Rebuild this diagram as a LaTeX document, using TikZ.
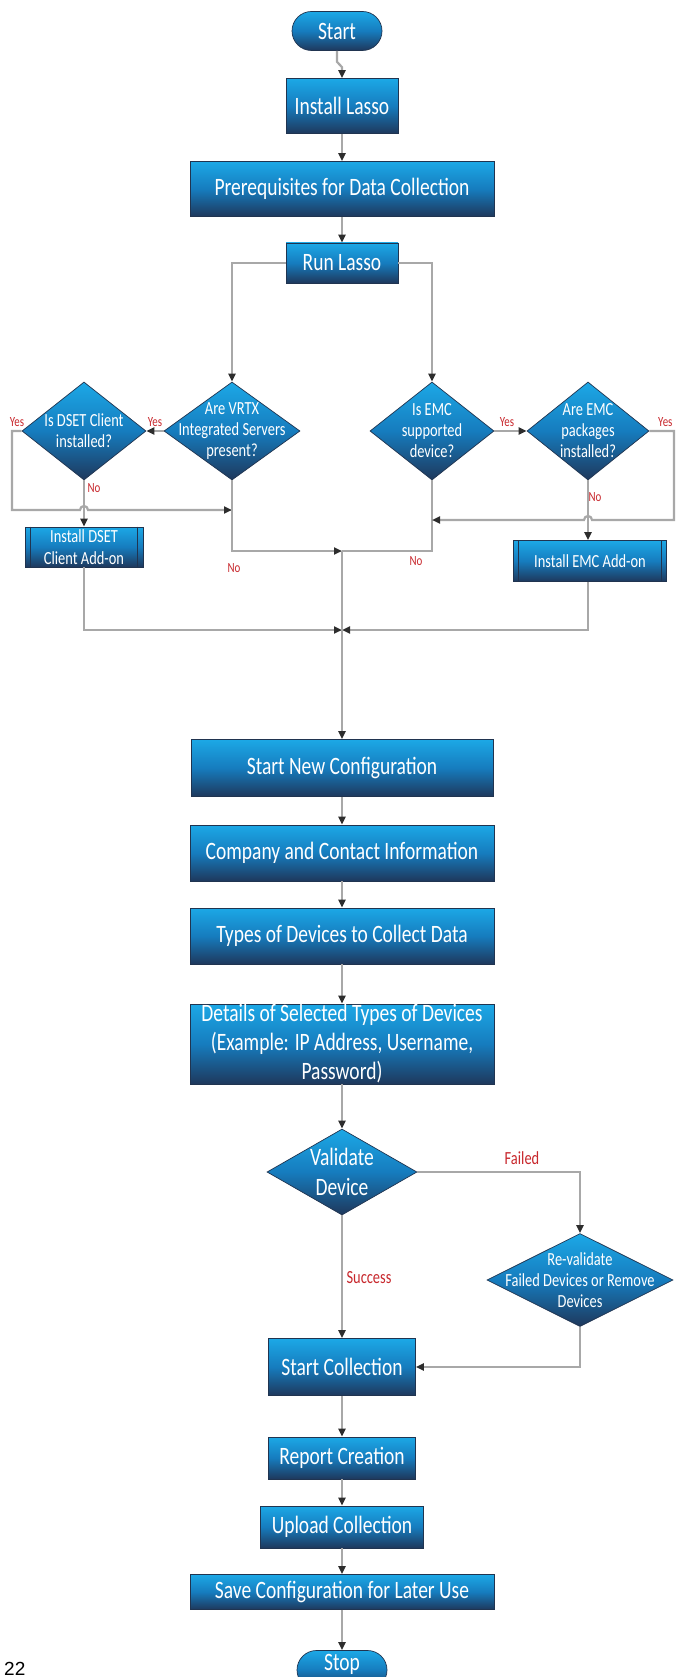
\documentclass[tikz,border=0pt]{standalone}
\usepackage{fontspec}
\usetikzlibrary{shapes.geometric,shapes.misc,arrows.meta,calc}
\newfontfamily\cfont{Carlito}[FakeStretch=0.78]
\newfontfamily\pgfont{Liberation Sans}
\definecolor{btop}{RGB}{28,168,230}
\definecolor{bmid}{RGB}{22,124,190}
\definecolor{bbot}{RGB}{30,56,92}
\definecolor{bline}{RGB}{32,52,80}
\definecolor{lgray}{RGB}{168,168,168}
\definecolor{ared}{RGB}{200,40,45}
\definecolor{tipc}{RGB}{45,45,45}
\tikzset{
  shadeit/.style={top color=btop, bottom color=bbot, middle color=bmid, draw=bline, line width=0.7pt},
  box/.style={shadeit, rectangle, inner sep=0pt, text=white, font=\cfont\fontsize{25}{29}\selectfont, align=center},
  pill/.style={shadeit, rounded rectangle, inner sep=0pt},
  sbox/.style={box, font=\cfont\fontsize{18.5}{21.5}\selectfont},
  dia/.style={shadeit, diamond, inner sep=0pt},
  dtext/.style={text=white, font=\cfont\fontsize{18.5}{21}\selectfont, align=center, inner sep=0pt},
  btext/.style={text=white, font=\cfont\fontsize{25}{30}\selectfont, align=center, inner sep=0pt},
  conn/.style={draw=lgray, line width=2.2pt},
  arr/.style={conn, -{Triangle[length=8pt,width=7pt,color=tipc]}},
  lab/.style={text=ared, font=\cfont\fontsize{18.5}{20}\selectfont, inner sep=0pt},
  slab/.style={text=ared, font=\cfont\fontsize{14}{15}\selectfont, inner sep=0pt},
  inline/.style={draw=bline, line width=0.8pt},
}
\begin{document}
\begin{tikzpicture}[x=1pt,y=-1pt]
\useasboundingbox (0,0) rectangle (676,1677);
\clip (0,0) rectangle (676,1677);
\fill[white] (0,0) rectangle (676,1677);

% main column
\node[pill, minimum width=90, minimum height=39,
  label={[btext]center:Start}] (start) at (337,31) {};
\node[box, minimum width=112, minimum height=55] (install) at (342,106) {Install Lasso};
\node[box, minimum width=304, minimum height=55] (prereq) at (342,189) {Prerequisites for Data Collection};
\node[box, minimum width=112, minimum height=40] (run) at (342,263) {Run Lasso};

% decision row
\node[dia, minimum width=136, minimum height=98,
  label={[dtext]center:{Are VRTX\\Integrated Servers\\present?}}] (vrtx) at (232,431) {};
\node[dia, minimum width=124, minimum height=98,
  label={[dtext]center:{Is DSET Client\\installed?}}] (dset) at (84,431) {};
\node[dia, minimum width=124, minimum height=98,
  label={[dtext]center:{Is EMC\\supported\\device?}}] (emcs) at (432,431) {};
\node[dia, minimum width=122, minimum height=98,
  label={[dtext]center:{Are EMC\\packages\\installed?}}] (emcp) at (588,431) {};

\node[sbox, minimum width=118, minimum height=40] (idset) at (84,547) {Install DSET\\Client Add-on};
\node[sbox, minimum width=153, minimum height=41] (iemc) at (590,561) {Install EMC Add-on};
\draw[inline] ([xshift=6pt]idset.north west) -- ([xshift=6pt]idset.south west);
\draw[inline] ([xshift=-6pt]idset.north east) -- ([xshift=-6pt]idset.south east);
\draw[inline] ([xshift=5pt]iemc.north west) -- ([xshift=5pt]iemc.south west);
\draw[inline] ([xshift=-5pt]iemc.north east) -- ([xshift=-5pt]iemc.south east);

\coordinate (j1) at (342,551);
\coordinate (j2) at (342,630);

\node[box, minimum width=302, minimum height=57] (snc) at (342,768) {Start New Configuration};
\node[box, minimum width=304, minimum height=56] (cci) at (342,853) {Company and Contact Information};
\node[box, minimum width=304, minimum height=56] (types) at (342,936) {Types of Devices to Collect Data};
\node[box, minimum width=304, minimum height=80] (details) at (342,1044)
  {Details of Selected Types of Devices\\(Example: IP Address, Username,\\Password)};
\node[dia, minimum width=150, minimum height=86,
  label={[btext]center:{Validate\\Device}}] (validate) at (342,1172) {};
\node[dia, minimum width=186, minimum height=93,
  label={[dtext]center:{Re-validate\\Failed Devices or Remove\\Devices}}] (reval) at (580,1280) {};
\node[box, minimum width=147, minimum height=57] (scoll) at (342,1367) {Start Collection};
\node[box, minimum width=147, minimum height=42] (report) at (342,1458) {Report Creation};
\node[box, minimum width=163, minimum height=42] (upload) at (342,1527) {Upload Collection};
\node[box, minimum width=304, minimum height=35] (save) at (342,1592) {Save Configuration for Later Use};
\node[pill, minimum width=90, minimum height=39,
  label={[btext,yshift=6pt]center:Stop}] (stop) at (342,1670) {};

\node[font=\pgfont\fontsize{19}{20}\selectfont, anchor=base west, inner sep=0pt] (pgnum) at (4,1675) {22};

% connectors
\draw[arr] (start.south) -- ++(0,11) -- ($(install.north)+(0,-11)$) -- (install.north);
\draw[arr] (install) -- (prereq);
\draw[arr] (prereq) -- (run);
\draw[arr] (run.west) -| (vrtx.north);
\draw[arr] (run.east) -| (emcs.north);

\draw[arr] (vrtx.west) -- (dset.east);
\draw[arr] (dset.west) -- (12,431) -- (12,510) -- (80,510)
   arc[start angle=180,end angle=0,radius=4pt] -- (vrtx.south |- 0,510);
\draw[arr] (dset.south) -- (idset.north);
\draw[arr] (vrtx.south) |- (j1);
\draw[conn] (emcs.south) |- (j1);

\draw[arr] (emcs.east) -- (emcp.west);
\draw[arr] (emcp.east) -- (674,431) -- (674,520) -- (592,520)
   arc[start angle=0,end angle=180,radius=4pt] -- (emcs.south |- 0,520);
\draw[arr] (emcp.south) -- (emcp.south |- iemc.north);

\draw[arr] (idset.south) |- (j2);
\draw[arr] (iemc.south -| emcp.south) |- (j2);
\draw[arr] (j1) -- (snc.north);

\draw[arr] (snc) -- (cci);
\draw[arr] (cci) -- (types);
\draw[arr] (types) -- (details);
\draw[arr] (details) -- (validate);
\draw[arr] (validate.east) -| (reval.north);
\draw[arr] (validate.south) -- (scoll.north);
\draw[arr] (reval.south) |- (scoll.east);
\draw[arr] (scoll) -- (report);
\draw[arr] (report) -- (upload);
\draw[arr] (upload) -- (save);
\draw[arr] (save) -- (stop);

% labels
\node[slab] (l1) at (155,422) {Yes};
\node[slab] (l2) at (17,422) {Yes};
\node[slab] (l3) at (94,488) {No};
\node[slab] (l4) at (234,568) {No};
\node[slab] (l5) at (507,422) {Yes};
\node[slab, anchor=west] (l6) at (658,422) {Yes};
\node[slab] (l7) at (595,497) {No};
\node[slab] (l8) at (416,561) {No};
\node[lab] (l9) at (522,1158) {Failed};
\node[lab] (l10) at (369,1278) {Success};
\end{tikzpicture}
\end{document}
